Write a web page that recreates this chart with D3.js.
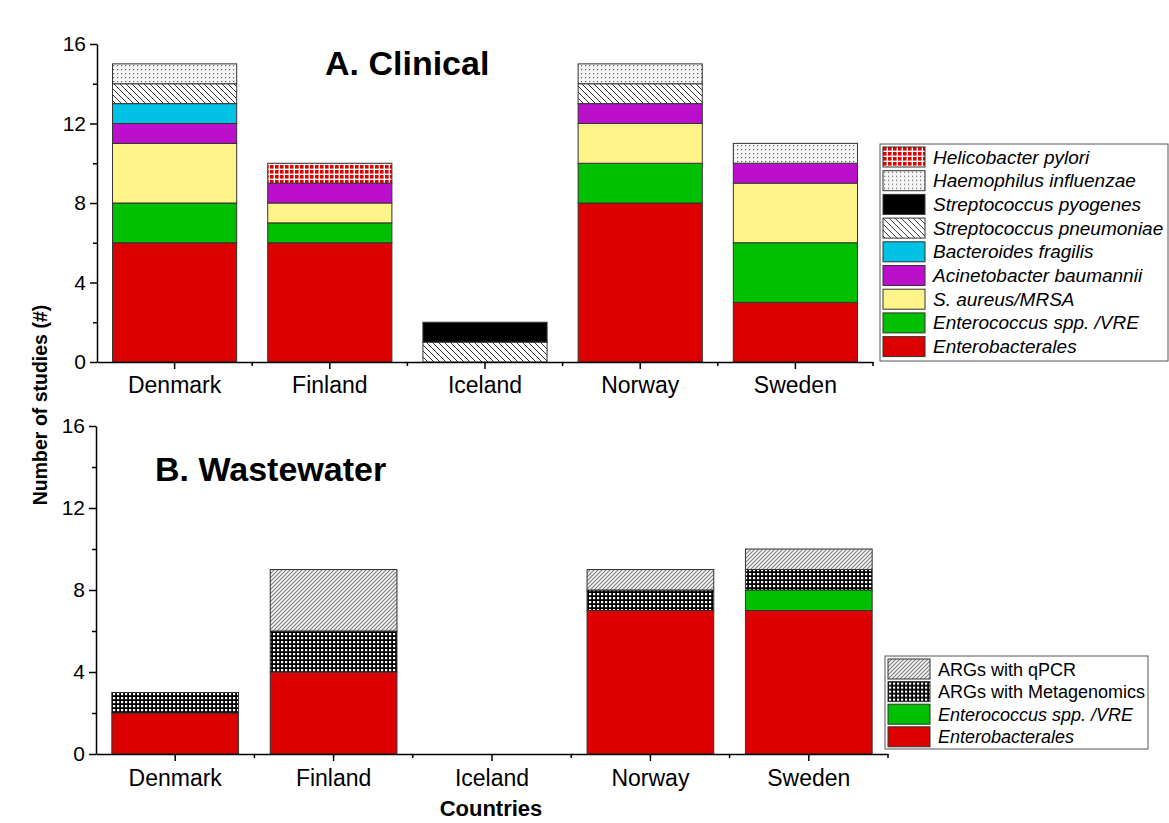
<!DOCTYPE html>
<html>
<head>
<meta charset="utf-8">
<script src="https://cdn.jsdelivr.net/npm/d3@7"></script>
<style>
  body { margin: 0; background: #fff; }
  svg { font-family: Arial, "Liberation Sans", sans-serif; }
</style>
</head>
<body>
<svg id="chart" width="1169" height="823"></svg>
<script>
// ---- data ----
var countries = ["Denmark", "Finland", "Iceland", "Norway", "Sweden"];
var yTicks = [0, 4, 8, 12, 16];
var yMinor = [2, 6, 10, 14];

// A. Clinical (stack order bottom -> top)
var clinicalKeys = ["Enterobacterales", "Enterococcus spp. /VRE", "S. aureus/MRSA",
  "Acinetobacter baumannii", "Bacteroides fragilis", "Streptococcus pneumoniae",
  "Streptococcus pyogenes", "Haemophilus influenzae", "Helicobacter pylori"];
var enterobacterales = [6, 6, 0, 8, 3];
var enterococcus     = [2, 1, 0, 2, 3];
var saureus          = [3, 1, 0, 2, 3];
var acinetobacter    = [1, 1, 0, 1, 1];
var bacteroides      = [1, 0, 0, 0, 0];
var strepPneumoniae  = [1, 0, 1, 1, 0];
var strepPyogenes    = [0, 0, 1, 0, 0];
var haemophilus      = [1, 0, 0, 1, 1];
var helicobacter     = [0, 1, 0, 0, 0];

// B. Wastewater
var wasteKeys = ["Enterobacterales", "Enterococcus spp. /VRE", "ARGs with Metagenomics", "ARGs with qPCR"];
var wwEnterobacterales = [2, 4, 0, 7, 7];
var wwEnterococcus     = [0, 0, 0, 0, 1];
var wwMetagenomics     = [1, 2, 0, 1, 1];
var wwQpcr             = [0, 3, 0, 1, 1];

var fills = {
  "Enterobacterales": "#dd0000",
  "Enterococcus spp. /VRE": "#00c000",
  "S. aureus/MRSA": "#fff48a",
  "Acinetobacter baumannii": "#bb0fcb",
  "Bacteroides fragilis": "#00c2e4",
  "Streptococcus pneumoniae": "url(#pneu)",
  "Streptococcus pyogenes": "#000000",
  "Haemophilus influenzae": "url(#haemo)",
  "Helicobacter pylori": "url(#helico)",
  "ARGs with Metagenomics": "url(#meta)",
  "ARGs with qPCR": "url(#qpcr)"
};
var notItalic = ["ARGs with Metagenomics", "ARGs with qPCR"];

var svg = d3.select("svg#chart");

////////////////////////////////////////////
// patterns
////////////////////////////////////////////
var defs = svg.append("defs");

var p = defs.append("pattern").attr("id", "pneu").attr("patternUnits", "userSpaceOnUse")
  .attr("width", 6).attr("height", 6);
p.append("rect").attr("width", 6).attr("height", 6).attr("fill", "#fff");
p.append("path").attr("d", "M0,0L6,6M-3,3L3,9M3,-3L9,3").attr("stroke", "#222").attr("stroke-width", 0.9);

p = defs.append("pattern").attr("id", "haemo").attr("patternUnits", "userSpaceOnUse")
  .attr("width", 4).attr("height", 4);
p.append("rect").attr("width", 4).attr("height", 4).attr("fill", "#f7f7f7");
p.append("rect").attr("x", 1).attr("y", 1).attr("width", 1.2).attr("height", 1.2).attr("fill", "#666");

p = defs.append("pattern").attr("id", "helico").attr("patternUnits", "userSpaceOnUse")
  .attr("width", 5).attr("height", 5);
p.append("rect").attr("width", 5).attr("height", 5).attr("fill", "#fff");
p.append("rect").attr("width", 3.6).attr("height", 3.6).attr("fill", "#e00000");

p = defs.append("pattern").attr("id", "meta").attr("patternUnits", "userSpaceOnUse")
  .attr("width", 4).attr("height", 4);
p.append("rect").attr("width", 4).attr("height", 4).attr("fill", "#000");
p.append("rect").attr("x", 1).attr("y", 1).attr("width", 2.2).attr("height", 2.2).attr("fill", "#fff");

p = defs.append("pattern").attr("id", "qpcr").attr("patternUnits", "userSpaceOnUse")
  .attr("width", 4).attr("height", 4);
p.append("rect").attr("width", 4).attr("height", 4).attr("fill", "#f4f4f4");
p.append("path").attr("d", "M-1,1L1,-1M0,4L4,0M3,5L5,3").attr("stroke", "#808080").attr("stroke-width", 1.1);

////////////////////////////////////////////
// panels
////////////////////////////////////////////
function drawPanel(o) {
  var x = d3.scaleBand().domain(countries).range(o.xr).paddingInner(0.2).paddingOuter(0.1);
  var y = d3.scaleLinear().domain([0, 16]).range(o.yr);

  var rows = countries.map(function (c, i) {
    var r = {country: c};
    o.keys.forEach(function (k, j) { r[k] = o.series[j][i]; });
    return r;
  });
  var stacked = d3.stack().keys(o.keys)(rows);

  var g = svg.append("g");
  g.selectAll("g.layer")
    .data(stacked)
    .enter().append("g")
    .attr("class", "layer")
    .attr("fill", d => fills[d.key])
    .selectAll("rect")
    .data(d => d.filter(s => s[1] - s[0] > 0))
    .enter().append("rect")
    .attr("x", d => x(d.data.country))
    .attr("width", x.bandwidth())
    .attr("y", d => y(d[1]))
    .attr("height", d => y(d[0]) - y(d[1]))
    .attr("stroke", "#333")
    .attr("stroke-width", 1);

  //yaxis
  var ya = g.append("g")
    .attr("transform", `translate(${o.xr[0]},0)`)
    .call(d3.axisLeft(y).tickValues(yTicks).tickSize(7).tickSizeOuter(0).tickPadding(4));
  ya.selectAll("text").attr("font-size", "21px").attr("font-family", "Arial, 'Liberation Sans', sans-serif").attr("fill", "#000");
  ya.select(".domain").attr("stroke-width", 1.5);
  ya.selectAll(".tick line").attr("stroke-width", 1.5);
  g.append("g")
    .attr("transform", `translate(${o.xr[0]},0)`)
    .call(d3.axisLeft(y).tickValues(yMinor).tickSize(4).tickFormat(""))
    .call(s => s.select(".domain").remove())
    .selectAll("line").attr("stroke-width", 1.5);

  //xaxis
  var xa = g.append("g")
    .attr("transform", `translate(0,${o.yr[0]})`)
    .call(d3.axisBottom(x).tickSize(7).tickSizeOuter(0).tickPadding(o.pad));
  xa.selectAll("text").attr("font-size", "23px").attr("font-family", "Arial, 'Liberation Sans', sans-serif").attr("fill", "#000");
  xa.select(".domain").attr("stroke-width", 1.5);
  xa.selectAll(".tick line").attr("stroke-width", 1.5);
  var bounds = countries.slice(1).map(c => x(c) - x.step() * 0.1).concat([o.xr[1]]);
  g.append("g").selectAll("line")
    .data(bounds)
    .enter().append("line")
    .attr("x1", d => d).attr("x2", d => d)
    .attr("y1", o.yr[0]).attr("y2", o.yr[0] + 4)
    .attr("stroke", "#000").attr("stroke-width", 1.5);

  //title
  g.append("text")
    .attr("x", o.titleX)
    .attr("y", o.titleY)
    .attr("text-anchor", "start")
    .attr("font-size", "34px")
    .attr("font-weight", "bold")
    .text(o.title);

  //legend (top entry = last key)
  var lg = g.append("g");
  lg.append("rect")
    .attr("x", o.leg.x).attr("y", o.leg.y)
    .attr("width", o.leg.w).attr("height", o.leg.h)
    .attr("fill", "#fff").attr("stroke", "#555").attr("stroke-width", 1);
  var items = o.keys.slice().reverse();
  var li = lg.selectAll("g.item")
    .data(items)
    .enter().append("g")
    .attr("class", "item")
    .attr("transform", (d, i) => `translate(${o.leg.x + 3},${o.leg.y + 3 + i * o.leg.step})`);
  li.append("rect")
    .attr("width", 42).attr("height", 20)
    .attr("fill", d => fills[d])
    .attr("stroke", "#333").attr("stroke-width", 1);
  li.append("text")
    .attr("x", 50).attr("y", 16.5)
    .attr("font-size", o.leg.font)
    .attr("font-style", d => notItalic.indexOf(d) >= 0 ? "normal" : "italic")
    .text(d => d);
}

drawPanel({
  keys: clinicalKeys,
  series: [enterobacterales, enterococcus, saureus, acinetobacter, bacteroides,
           strepPneumoniae, strepPyogenes, haemophilus, helicobacter],
  xr: [97, 873], yr: [362, 44], pad: 8,
  title: "A. Clinical", titleX: 325, titleY: 75,
  leg: {x: 880, y: 144, w: 288, h: 217, step: 23.7, font: "19px"}
});

drawPanel({
  keys: wasteKeys,
  series: [wwEnterobacterales, wwEnterococcus, wwMetagenomics, wwQpcr],
  xr: [96, 888], yr: [754, 426], pad: 9,
  title: "B. Wastewater", titleX: 155, titleY: 481,
  leg: {x: 885, y: 656, w: 263, h: 93, step: 22.6, font: "18px"}
});

//axis titles
svg.append("text")
  .attr("transform", "translate(47,405) rotate(-90)")
  .attr("text-anchor", "middle")
  .attr("font-size", "19.5px")
  .attr("font-weight", "bold")
  .text("Number of studies (#)");

svg.append("text")
  .attr("x", 491)
  .attr("y", 816)
  .attr("text-anchor", "middle")
  .attr("font-size", "22px")
  .attr("font-weight", "bold")
  .text("Countries");
</script>
</body>
</html>
